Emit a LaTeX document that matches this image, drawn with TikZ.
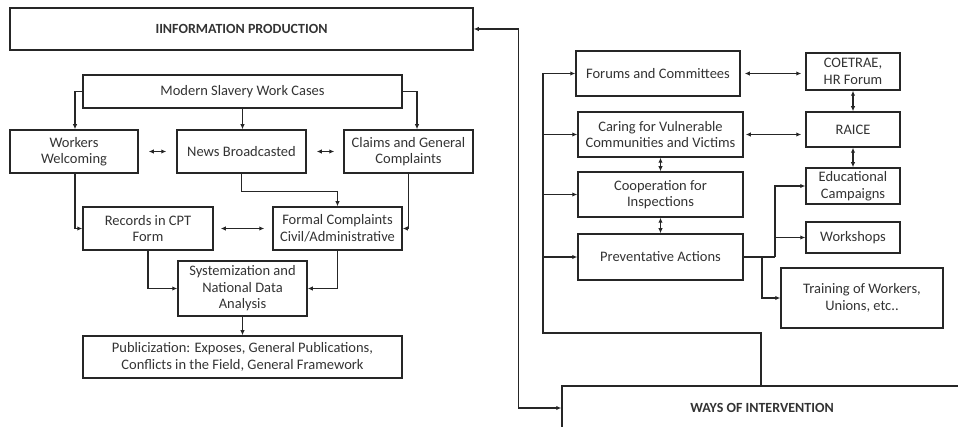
\documentclass[tikz,border=0pt]{standalone}
\usepackage{fontspec}
\setmainfont{Carlito}
\usetikzlibrary{arrows.meta}
\begin{document}
\begin{tikzpicture}[x=1pt,y=-1pt,
  box/.style={draw=black!85,line width=1.5pt,rectangle,inner sep=0pt,align=center,
    text=black!80,font=\fontsize{14.5}{16.5}\selectfont},
  title/.style={box,font=\fontsize{14}{16}\selectfont\bfseries},
  conn/.style={draw=black!85,line width=1.2pt},
  arr/.style={conn,-{Latex[length=5pt,width=4.5pt]}},
  dbl/.style={conn,{Latex[length=5pt,width=4.5pt]}-{Latex[length=5pt,width=4.5pt]}}]
\useasboundingbox (0,0) rectangle (958,427);
\clip (0,0) rectangle (958,427);
% left part
\node[title,minimum width=463,minimum height=42] (info) at (241.5,29) {IINFORMATION PRODUCTION};
\node[box,minimum width=319,minimum height=33] (ms) at (242.5,91.5) {Modern Slavery Work Cases};
\node[box,minimum width=128,minimum height=43] (ww) at (74,151.5) {Workers\\Welcoming};
\node[box,minimum width=129,minimum height=43] (nb) at (241.5,151.5) {News Broadcasted};
\node[box,minimum width=129,minimum height=43] (cg) at (408.5,151.5) {Claims and General\\Complaints};
\node[box,minimum width=130,minimum height=43] (rc) at (148,228.5) {Records in CPT\\Form};
\node[box,minimum width=129,minimum height=43] (fc) at (337.5,228.5) {Formal Complaints\\Civil/Administrative};
\node[box,minimum width=129,minimum height=55] (sy) at (242.5,288.5) {Systemization and\\National Data\\Analysis};
\node[box,minimum width=319,minimum height=42] (pu) at (242.5,357) {Publicization: Exposes, General Publications,\\Conflicts in the Field, General Framework};
% right part
\node[box,minimum width=164,minimum height=45] (fo) at (658,73.5) {Forums and Committees};
\node[box,minimum width=94,minimum height=37] (co) at (853,71.5) {COETRAE,\\HR Forum};
\node[box,minimum width=165,minimum height=45] (ca) at (660.5,134.5) {Caring for Vulnerable\\Communities and Victims};
\node[box,minimum width=94,minimum height=35] (ra) at (853,129.5) {RAICE};
\node[box,minimum width=94,minimum height=36] (ed) at (853,186) {Educational\\Campaigns};
\node[box,minimum width=165,minimum height=45] (cp) at (660.5,194.5) {Cooperation for\\Inspections};
\node[box,minimum width=165,minimum height=46] (pr) at (660.5,257) {Preventative Actions};
\node[box,minimum width=94,minimum height=31] (ws) at (853,237.5) {Workshops};
\node[box,minimum width=162,minimum height=60] (tr) at (862,298) {Training of Workers,\\Unions, etc..};
\node[title,minimum width=400,minimum height=44] (wy) at (762,408) {WAYS OF INTERVENTION};
% connectors left
\draw[arr] (ms.west) -| ([xshift=1]ww.north);
\draw[arr] (ms.south) -- (ms.south |- nb.north);
\draw[arr] (ms.east) -| ([xshift=8.5]cg.north);
\draw[dbl,shorten <=10pt,shorten >=10pt] (ww.east) -- (nb.west);
\draw[dbl,shorten <=10pt,shorten >=9pt] (nb.east) -- (cg.west);
\draw[arr] (nb.south) -- ++(0,18) -| (fc.north);
\draw[arr] ([xshift=1]ww.south) |- (rc.west);
\draw[arr] (cg.south) |- (fc.east);
\draw[dbl,shorten <=7pt,shorten >=8pt] (rc.east) -- (fc.west);
\draw[arr] (rc.south) |- (sy.west);
\draw[arr] (fc.south) |- (sy.east);
\draw[arr] (sy.south) -- (pu.north);
% big connector
\draw[dbl] (info.east) -- ++(45,0) |- (wy.west);
% right connectors
\coordinate (bus) at (543,333);
\draw[conn] ([xshift=-1]wy.north) |- (bus) -- (bus |- fo.west);
\draw[arr] (bus |- fo.west) -- (fo.west);
\draw[arr] (bus |- ca.west) -- (ca.west);
\draw[arr] (bus |- cp.west) -- (cp.west);
\draw[arr] (bus |- pr.west) -- (pr.west);
\draw[dbl,shorten <=4pt,shorten >=4pt] (fo.east) -- (co.west |- fo.east);
\draw[dbl,shorten <=2pt,shorten >=4pt] (ca.east) -- (ra.west |- ca.east);
\draw[dbl] (co.south) -- (ra.north);
\draw[dbl] (ra.south) -- (ed.north);
\draw[dbl] (ca.south) -- (cp.north);
\draw[dbl] (cp.south) -- (pr.north);
\coordinate (j1) at (775,257);
\draw[conn] (pr.east) -- (j1);
\draw[arr] (j1) |- (ed.west);
\draw[arr] (j1 |- ws.west) -- (ws.west);
\draw[arr] (762,257) |- (tr.west);
\end{tikzpicture}
\end{document}
